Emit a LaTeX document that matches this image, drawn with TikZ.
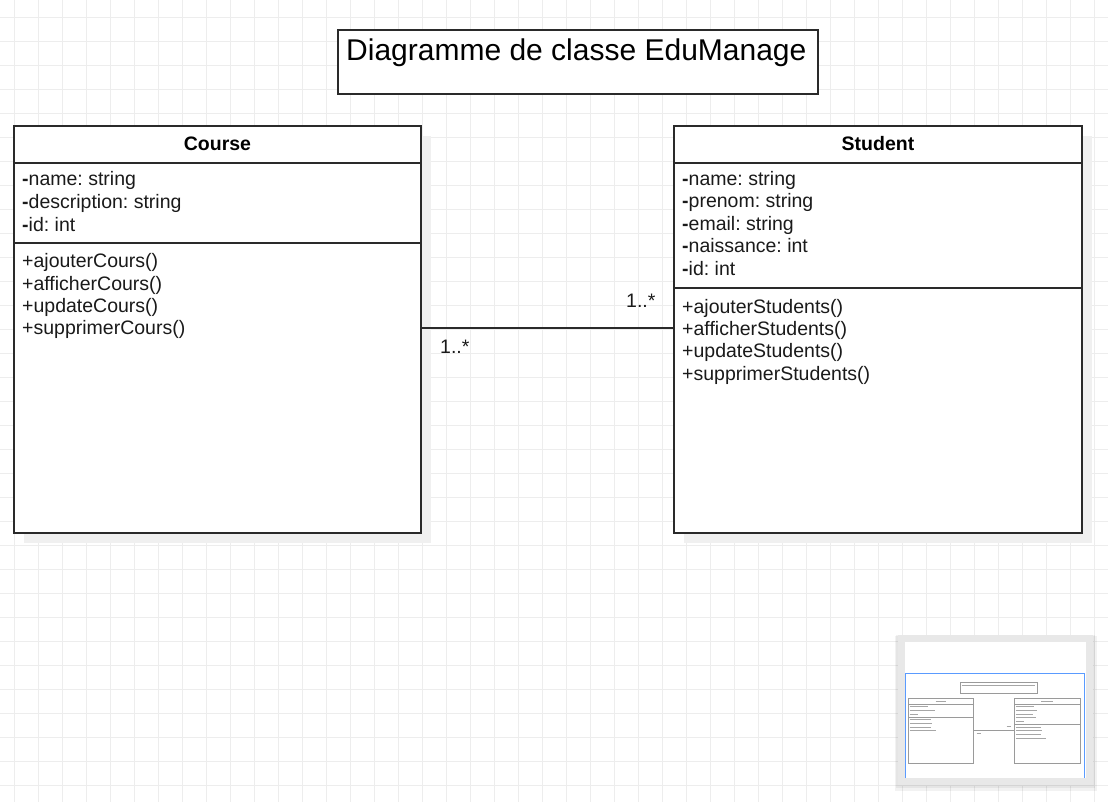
\documentclass[tikz,border=0pt]{standalone}
\usepackage{fontspec}
\setmainfont{Liberation Sans}
\frenchspacing
\definecolor{gridc}{HTML}{EDEDED}
\definecolor{ink}{HTML}{2A2A2A}
\definecolor{shadowc}{HTML}{F0F0F0}
\definecolor{txtc}{HTML}{1A1A1A}
\definecolor{navblue}{HTML}{5A9BFF}
\definecolor{mapframe}{HTML}{E8E8E8}
\definecolor{mapink}{HTML}{9A9A9A}
\tikzset{
  gridline/.style={gridc, line width=0.8pt},
  umlbox/.style={draw=ink, line width=1.8pt, fill=white, inner sep=0pt, outer sep=0pt, anchor=north west},
  sepline/.style={ink, line width=1.8pt},
  conn/.style={ink, line width=1.8pt},
  member/.style={anchor=base west, inner sep=0pt, text=txtc, font=\fontsize{19.5}{22.5}\selectfont},
  header/.style={anchor=base, inner sep=0pt, text=black, font=\bfseries\fontsize{19.5}{22.5}\selectfont},
  titletext/.style={anchor=base west, inner sep=0pt, text=black, font=\fontsize{30}{36}\selectfont},
  minibox/.style={draw=mapink, line width=0.7pt, fill=white},
  minitext/.style={draw=black!35, line width=0.9pt},
}
\begin{document}
\begin{tikzpicture}[x=1pt,y=-1pt]
\useasboundingbox (0,0) rectangle (1108,802);
\fill[white] (0,0) rectangle (1108,802);
% grid
\foreach \x in {14,38,...,1106} \draw[gridline] (\x,0) -- (\x,802);
\foreach \y in {17,41,...,800} \draw[gridline] (0,\y) -- (1108,\y);

% title
\node[umlbox, minimum width=480pt, minimum height=64pt] (titlebox) at (338,30) {};
\node[titletext] (title) at (346,61) {Diagramme de classe EduManage};

% Course class
\fill[shadowc] (24,136) rectangle (431,543);
\node[umlbox, minimum width=407pt, minimum height=407pt] (course) at (14,126) {};
\draw[sepline] (14,163) -- (421,163);
\draw[sepline] (14,243) -- (421,243);
\node[header] (courseH) at (217.5,151) {Course};
\foreach \t [count=\i from 0] in {\textbf{-}name: string,\textbf{-}description: string,\textbf{-}id: int}
  \node[member] (ca\i) at (22,{185.5+23*\i}) {\t};
\foreach \t [count=\i from 0] in {+ajouterCours(),+afficherCours(),+updateCours(),+supprimerCours()}
  \node[member] (cm\i) at (22,{268+22.3*\i}) {\t};

% Student class
\fill[shadowc] (684,136) rectangle (1092,543);
\node[umlbox, minimum width=408pt, minimum height=407pt] (student) at (674,126) {};
\draw[sepline] (674,163) -- (1082,163);
\draw[sepline] (674,288) -- (1082,288);
\node[header] (studentH) at (878,151) {Student};
\foreach \t [count=\i from 0] in {\textbf{-}name: string,\textbf{-}prenom: string,\textbf{-}email: string,\textbf{-}naissance: int,\textbf{-}id: int}
  \node[member] (sa\i) at (682,{185.5+22.5*\i}) {\t};
\foreach \t [count=\i from 0] in {+ajouterStudents(),+afficherStudents(),+updateStudents(),+supprimerStudents()}
  \node[member] (sm\i) at (682,{313+22.4*\i}) {\t};

% association
\draw[conn] ([yshift=1.5pt]course.east) -- ([yshift=1.5pt]student.west);
\node[member] (multC) at (440,353) {1..*};
\node[member] (multS) at (626,307) {1..*};

% minimap
\fill[black, opacity=0.05] (895,636) rectangle (1097,791);
\fill[black, opacity=0.05] (896,635) rectangle (1095,788);
\fill[mapframe] (898,635) rectangle (1093,785);
\fill[white] (905,642) rectangle (1086,778);
\begin{scope}[shift={(905.98,677.88)}, scale=0.1607]
  \draw[minibox] (338,30) rectangle (818,94);
  \draw[minibox] (14,126) rectangle (421,533);
  \draw[mapink, line width=0.7pt] (14,163) -- (421,163) (14,243) -- (421,243);
  \draw[minibox] (674,126) rectangle (1082,533);
  \draw[mapink, line width=0.7pt] (674,163) -- (1082,163) (674,288) -- (1082,288);
  \draw[mapink, line width=0.7pt] (421,328) -- (674,328);
  \draw[minitext] (346,50) -- (805,50);
  \draw[minitext] (184,145) -- (251,145) (841,145) -- (914,145);
  \foreach \w [count=\i from 0] in {115,159,53} \draw[minitext] (22,{180+23*\i}) -- ({22+\w},{180+23*\i});
  \foreach \w [count=\i from 0] in {135,140,135,163} \draw[minitext] (22,{261+22.2*\i}) -- ({22+\w},{261+22.2*\i});
  \foreach \w [count=\i from 0] in {115,131,111,125,53} \draw[minitext] (682,{180+22.5*\i}) -- ({682+\w},{180+22.5*\i});
  \foreach \w [count=\i from 0] in {160,165,160,187} \draw[minitext] (682,{307+22.3*\i}) -- ({682+\w},{307+22.3*\i});
  \draw[minitext] (440,346) -- (469,346) (626,300) -- (655,300);
\end{scope}
\draw[navblue, line width=1.2pt] (905.7,778) -- (905.7,673.7) -- (1084.7,673.7) -- (1084.7,778);
\end{tikzpicture}
\end{document}
